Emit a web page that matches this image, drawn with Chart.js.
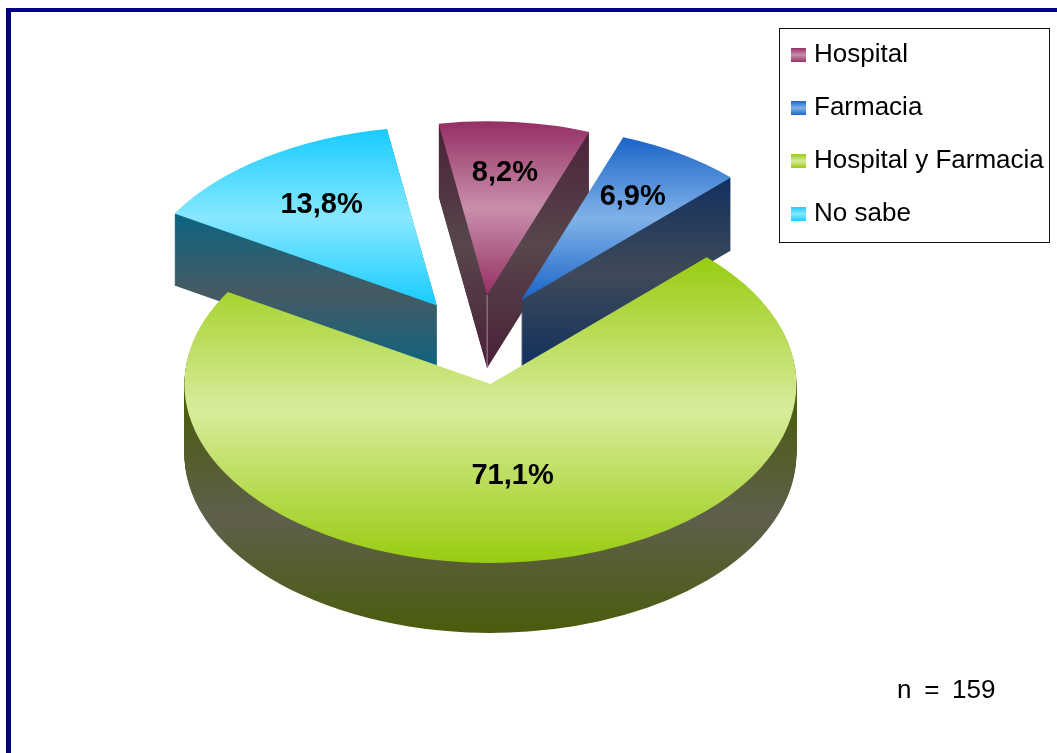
<!DOCTYPE html>
<html>
<head>
<meta charset="utf-8">
<style>
  html, body { margin: 0; padding: 0; background: #fff; }
  canvas { display: block; }
</style>
<script src="https://cdn.jsdelivr.net/npm/chart.js@4/dist/chart.umd.js"></script>
</head>
<body>
<canvas id="chart" width="1057" height="753"></canvas>
<script>
var categories = ['Hospital', 'Farmacia', 'Hospital y Farmacia', 'No sabe'];
var shares = [8.2, 6.9, 71.1, 13.8];
var shareLabels = ['8,2%', '6,9%', '71,1%', '13,8%'];
var sampleNote = 'n = 159';

// edge / middle colours of the vertical shine, top face then wall
var topEdge = ['#963064', '#1a64c8', '#99cc11', '#18ccff'];
var topMid = ['#c88fac', '#80b2e8', '#d8ec9c', '#88e8ff'];
var wallEdge = ['#4a2038', '#12305f', '#4a5c0c', '#0e6480'];
var wallMid = ['#57464c', '#3f4a58', '#5f5f4d', '#465a62'];

// y range each shine runs over on screen
var topBand = [[122, 295], [137, 300], [258, 562], [130, 305]];
var wallBand = [[122, 368], [178, 368], [400, 632], [217, 368]];

var squash = 0.585;     // ellipse height / width
var explode = 0.25;     // every slice moved out by a quarter radius
var depths = [73, 73, 70, 72];
var drawOrder = [0, 1, 3, 2];

// the far slices look a little smaller in the original's perspective
var sliceScale = [0.97, 0.97, 1, 1];
var sliceNudge = [[0, 0], [0, -1.5], [1, 0], [0, 3]];
var labelRadius = [0.69, 0.69, 0.51, 0.67];
var labelNudge = [[-2, 1], [-2, -1], [4, 1], [0, 2]];

function shine(ctx, y0, y1, edge, mid) {
  var g = ctx.createLinearGradient(0, y0, 0, y1);
  g.addColorStop(0, edge);
  g.addColorStop(0.5, mid);
  g.addColorStop(1, edge);
  return g;
}

function drawSlice(ctx, arc, i) {
  var half = (arc.startAngle + arc.endAngle) / 2;
  var ex = Math.cos(half) * arc.outerRadius * explode + sliceNudge[i][0];
  var ey = Math.sin(half) * arc.outerRadius * explode * squash + sliceNudge[i][1];
  var s = sliceScale[i];
  var base = arc.options;

  // screen y -> local y of this arc, so the gradient stays put while layers shift
  function localY(screenY, drop) {
    return arc.y + (screenY - drop - arc.y - ey) / (squash * s);
  }

  for (var d = depths[i]; d >= 0; d--) {
    var band = d > 0 ? wallBand[i] : topBand[i];
    var fill = shine(ctx, localY(band[0], d), localY(band[1], d),
      d > 0 ? wallEdge[i] : topEdge[i], d > 0 ? wallMid[i] : topMid[i]);
    ctx.save();
    ctx.translate(arc.x + ex, arc.y + ey + d);
    ctx.scale(s, squash * s);
    ctx.translate(-arc.x, -arc.y);
    arc.options = Object.assign({}, base, { backgroundColor: fill, borderWidth: 0 });
    arc.draw(ctx);
    ctx.restore();
  }
  arc.options = base;

  // pale crease where the two walls of the small wedge meet
  if (i === 0) {
    ctx.strokeStyle = '#a08a98';
    ctx.lineWidth = 1;
    ctx.beginPath();
    ctx.moveTo(arc.x + ex, arc.y + ey);
    ctx.lineTo(arc.x + ex, arc.y + ey + depths[i]);
    ctx.stroke();
  }
}

function drawShareLabels(ctx, arcs) {
  ctx.font = 'bold 29px "Liberation Sans", Arial, sans-serif';
  ctx.fillStyle = '#000';
  ctx.textAlign = 'center';
  ctx.textBaseline = 'middle';
  arcs.forEach(function (arc, i) {
    var half = (arc.startAngle + arc.endAngle) / 2;
    var r = arc.outerRadius * (explode + labelRadius[i]);
    ctx.fillText(shareLabels[i],
      arc.x + Math.cos(half) * r + labelNudge[i][0],
      arc.y + Math.sin(half) * r * squash + labelNudge[i][1]);
  });
}

function drawLegend(ctx) {
  ctx.fillStyle = '#fff';
  ctx.fillRect(780, 28, 269, 214);
  ctx.strokeStyle = '#111';
  ctx.lineWidth = 1;
  ctx.strokeRect(779.5, 28.5, 270, 214);
  ctx.font = '26px "Liberation Sans", Arial, sans-serif';
  ctx.textAlign = 'left';
  ctx.textBaseline = 'alphabetic';
  categories.forEach(function (name, i) {
    var baseline = 62 + i * 53;
    ctx.fillStyle = shine(ctx, baseline - 14, baseline, topEdge[i], topMid[i]);
    ctx.fillRect(791, baseline - 14, 15, 14);
    ctx.fillStyle = '#000';
    ctx.fillText(name, 814, baseline);
  });
}

var pie3d = {
  id: 'pie3d',
  beforeDraw: function (chart) {
    var ctx = chart.ctx;
    ctx.fillStyle = '#000080';
    ctx.fillRect(6, 8, 1051, 4);
    ctx.fillRect(6, 8, 5, 745);
  },
  beforeDatasetsDraw: function (chart) {
    var ctx = chart.ctx;
    var arcs = chart.getDatasetMeta(0).data;
    drawOrder.forEach(function (i) { drawSlice(ctx, arcs[i], i); });
    drawShareLabels(ctx, arcs);
    return false;
  },
  afterDraw: function (chart) {
    var ctx = chart.ctx;
    drawLegend(ctx);
    ctx.font = '26px "Liberation Sans", Arial, sans-serif';
    ctx.wordSpacing = '5.5px';
    ctx.fillStyle = '#000';
    ctx.textAlign = 'left';
    ctx.textBaseline = 'alphabetic';
    ctx.fillText(sampleNote, 897, 698);
    ctx.wordSpacing = '0px';
  }
};

new Chart(document.getElementById('chart'), {
  type: 'pie',
  data: {
    labels: categories,
    datasets: [{ data: shares, backgroundColor: topEdge, borderWidth: 0, radius: 306 }]
  },
  options: {
    responsive: false,
    animation: false,
    rotation: -9.4,
    layout: { padding: { right: 97, bottom: 74 } },
    plugins: { legend: { display: false }, tooltip: { enabled: false } }
  },
  plugins: [pie3d]
});
</script>
</body>
</html>
